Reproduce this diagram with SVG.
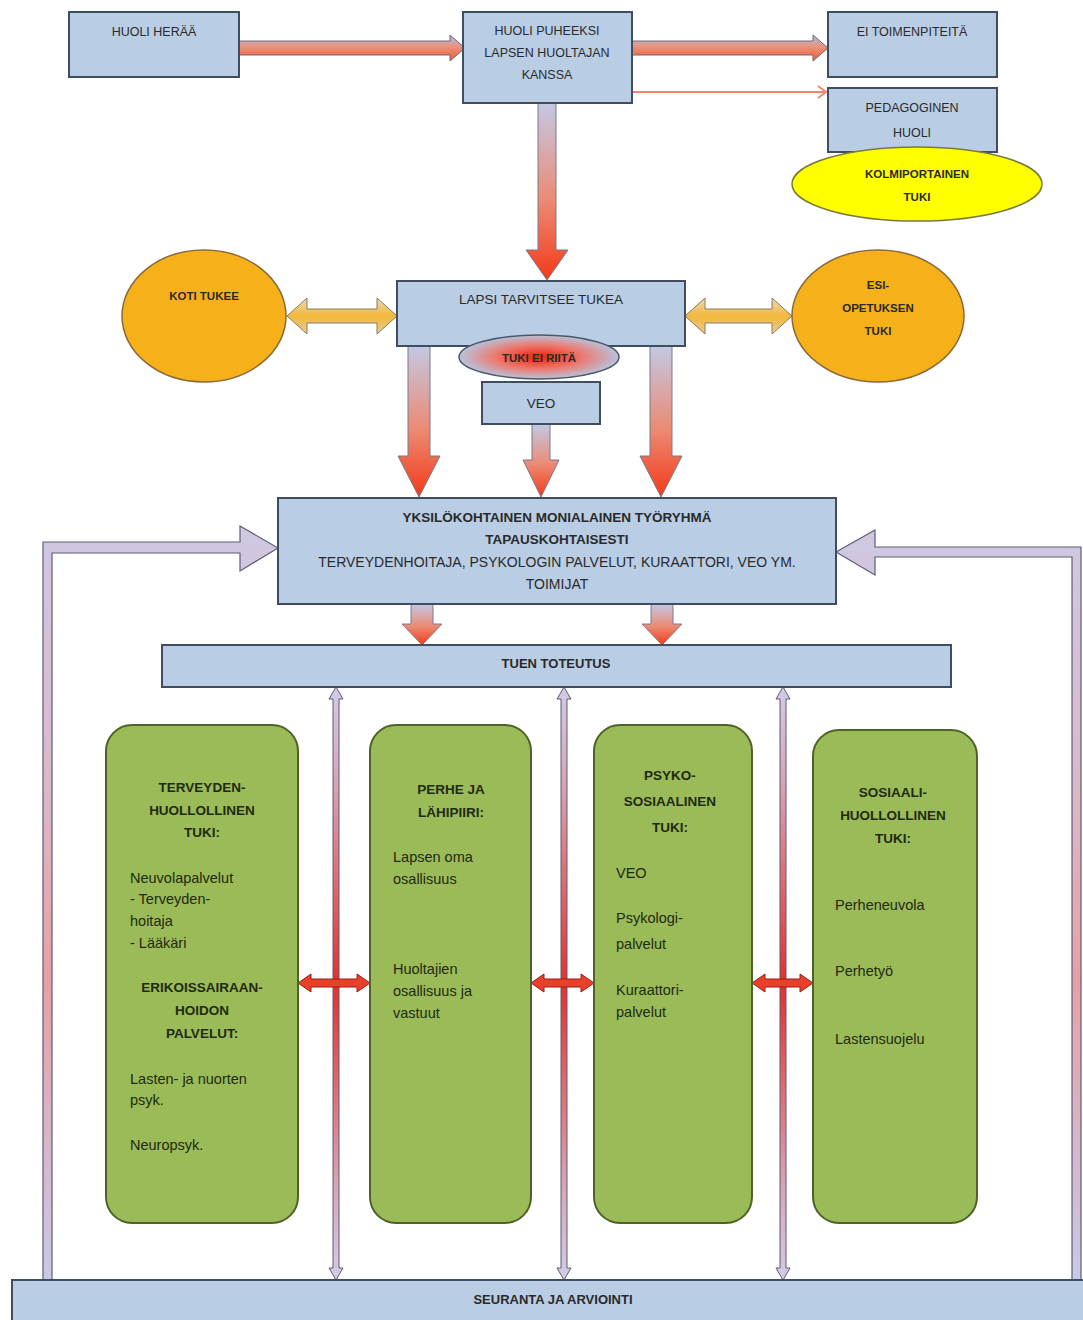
<svg xmlns="http://www.w3.org/2000/svg" width="1083" height="1320" viewBox="0 0 1083 1320">
<defs>
<linearGradient id="gH" x1="0" y1="0" x2="0" y2="1">
<stop offset="0" stop-color="#aebcdc"/><stop offset="0.45" stop-color="#e9937c"/><stop offset="1" stop-color="#ef5a36"/>
</linearGradient>
<linearGradient id="gV" x1="0" y1="0" x2="0" y2="1">
<stop offset="0" stop-color="#c3c9e4"/><stop offset="0.55" stop-color="#ec8a74"/><stop offset="1" stop-color="#f23a18"/>
</linearGradient>
<linearGradient id="gGold" x1="0" y1="0" x2="0" y2="1">
<stop offset="0" stop-color="#eadbb8"/><stop offset="0.5" stop-color="#f2b83a"/><stop offset="1" stop-color="#e4cc98"/>
</linearGradient>
<linearGradient id="gFb" x1="0" y1="0" x2="0" y2="1">
<stop offset="0" stop-color="#cfc9e2"/><stop offset="0.35" stop-color="#dcb8c8"/><stop offset="0.6" stop-color="#e8a0a4"/><stop offset="1" stop-color="#c9c9e6"/>
</linearGradient>
<linearGradient id="gThin" x1="0" y1="0" x2="0" y2="1">
<stop offset="0" stop-color="#d2cce6"/><stop offset="0.15" stop-color="#d8a8b8"/><stop offset="0.5" stop-color="#e4302a"/><stop offset="0.85" stop-color="#d8a8b8"/><stop offset="1" stop-color="#d2cce6"/>
</linearGradient>
<radialGradient id="gTuki" cx="0.5" cy="0.5" r="0.5">
<stop offset="0" stop-color="#f2200a"/><stop offset="0.55" stop-color="#ec7a70"/><stop offset="1" stop-color="#b9c2dc"/>
</radialGradient>
</defs>
<style>
.box{fill:#b9cde5;stroke:#3e4e60;stroke-width:2}
.green{fill:#9bbb59;stroke:#4f6228;stroke-width:2}
.t{font-family:"Liberation Sans",Arial,sans-serif;fill:#2a2a2a;font-size:12.5px}
.c{text-anchor:middle}
.b{font-weight:bold}
.g{font-family:"Liberation Sans",Arial,sans-serif;fill:#1e2a10;font-size:14.5px}
.gb{font-family:"Liberation Sans",Arial,sans-serif;fill:#1e2a10;font-size:13.5px;font-weight:bold;text-anchor:middle}
.arr{fill:url(#gH);stroke:#6a6a7a;stroke-width:1}
.arrv{fill:url(#gV);stroke:#7a7a8a;stroke-width:1}
.gold{fill:url(#gGold);stroke:#8a7a5a;stroke-width:1}
.fb{fill:url(#gFb);stroke:#5c5c7c;stroke-width:1.2}
.thin{fill:url(#gThin);stroke:#5a5a78;stroke-width:1}
.red{fill:#e8402a;stroke:#9a1e10;stroke-width:1}
</style>
<rect width="1083" height="1320" fill="#ffffff"/>

<g id="connectors">
<polygon class="arr" points="239,41 450,41 450,35 465,48 450,61 450,55 239,55"/>
<polygon class="arr" points="632,41 813,41 813,35 828,48 813,61 813,55 632,55"/>
<line x1="632" y1="92" x2="826" y2="92" stroke="#f0866a" stroke-width="2"/>
<polyline points="818,86 826,92 818,98" fill="none" stroke="#f0866a" stroke-width="2"/>
<polygon class="arrv" points="538,103 556,103 556,250 568,250 547,280 526,250 538,250"/>
<polygon class="gold" points="287,316 307,298 307,309 377,309 377,298 397,316 377,334 377,323 307,323 307,334"/>
<polygon class="gold" points="685,316 705,298 705,309 772,309 772,298 792,316 772,334 772,323 705,323 705,334"/>
<polygon class="arrv" points="408,346 430,346 430,456 440,456 419,497 398,456 408,456"/>
<polygon class="arrv" points="532,424 550,424 550,460 559,460 541,497 523,460 532,460"/>
<polygon class="arrv" points="650,346 672,346 672,456 682,456 661,497 640,456 650,456"/>
<polygon class="arrv" points="411,604 433,604 433,624 442,624 422,645 402,624 411,624"/>
<polygon class="arrv" points="651,604 673,604 673,624 682,624 662,645 642,624 651,624"/>
<polygon class="fb" points="43,1280 43,542 240,542 240,526 278,548 240,571 240,553 52,553 52,1280"/>
<polygon class="fb" points="1081,1280 1081,547 875,547 875,530 836,552 875,575 875,557 1072,557 1072,1280"/>
<polygon class="thin" points="336,687 343,699 339,699 339,1268 343,1268 336,1280 329,1268 333,1268 333,699 329,699"/>
<polygon class="thin" points="564,687 571,699 567,699 567,1268 571,1268 564,1280 557,1268 561,1268 561,699 557,699"/>
<polygon class="thin" points="783,687 790,699 786,699 786,1268 790,1268 783,1280 776,1268 780,1268 780,699 776,699"/>
<polygon class="red" points="298,983 311,974 311,979 357,979 357,974 370,983 357,992 357,987 311,987 311,992"/>
<polygon class="red" points="531,983 544,974 544,979 581,979 581,974 594,983 581,992 581,987 544,987 544,992"/>
<polygon class="red" points="752,983 765,974 765,979 800,979 800,974 813,983 800,992 800,987 765,987 765,992"/>
</g>

<g id="huoli-heraa">
<rect class="box" x="69" y="12" width="170" height="65"/>
<text class="t c" x="154" y="36">HUOLI HERÄÄ</text>
</g>
<g id="huoli-puheeksi">
<rect class="box" x="463" y="12" width="169" height="91"/>
<text class="t c" x="547" y="35">HUOLI PUHEEKSI</text>
<text class="t c" x="547" y="57">LAPSEN HUOLTAJAN</text>
<text class="t c" x="547" y="79">KANSSA</text>
</g>
<g id="ei-toimenpiteita">
<rect class="box" x="828" y="12" width="169" height="65"/>
<text class="t c" x="912" y="36">EI TOIMENPITEITÄ</text>
</g>
<g id="pedagoginen-huoli">
<rect class="box" x="828" y="88" width="169" height="64"/>
<text class="t c" x="912" y="112">PEDAGOGINEN</text>
<text class="t c" x="912" y="137">HUOLI</text>
</g>
<g id="kolmiportainen">
<ellipse cx="917" cy="184" rx="125" ry="37" fill="#ffff00" stroke="#7a7a3a" stroke-width="1.5"/>
<text class="t c b" x="917" y="178" style="font-size:11.5px">KOLMIPORTAINEN</text>
<text class="t c b" x="917" y="201" style="font-size:11.5px">TUKI</text>
</g>
<g id="koti-tukee">
<ellipse cx="204" cy="316" rx="82" ry="66" fill="#f5b01a" stroke="#8a6a3a" stroke-width="1.5"/>
<text class="t c b" x="204" y="300" style="font-size:11.5px">KOTI TUKEE</text>
</g>
<g id="esiopetuksen-tuki">
<ellipse cx="878" cy="316" rx="86" ry="66" fill="#f5b01a" stroke="#8a6a3a" stroke-width="1.5"/>
<text class="t c b" x="878" y="289" style="font-size:11.5px">ESI-</text>
<text class="t c b" x="878" y="312" style="font-size:11.5px">OPETUKSEN</text>
<text class="t c b" x="878" y="335" style="font-size:11.5px">TUKI</text>
</g>
<g id="lapsi-tarvitsee-tukea">
<rect class="box" x="397" y="281" width="288" height="65"/>
<text class="t c" x="541" y="304" style="font-size:13.5px">LAPSI TARVITSEE TUKEA</text>
</g>
<g id="tuki-ei-riita">
<ellipse cx="539" cy="357" rx="80" ry="22" fill="url(#gTuki)" stroke="#4a5a6a" stroke-width="1.5"/>
<text class="t c b" x="539" y="362" style="font-size:11.5px">TUKI EI RIITÄ</text>
</g>
<g id="veo">
<rect class="box" x="482" y="382" width="118" height="42"/>
<text class="t c" x="541" y="408" style="font-size:13.5px">VEO</text>
</g>
<g id="tyoryhma">
<rect class="box" x="278" y="498" width="558" height="106"/>
<text class="t c b" x="557" y="522" style="font-size:13.5px">YKSILÖKOHTAINEN MONIALAINEN TYÖRYHMÄ</text>
<text class="t c b" x="557" y="544" style="font-size:13.5px">TAPAUSKOHTAISESTI</text>
<text class="t c" x="557" y="567" style="font-size:14px">TERVEYDENHOITAJA, PSYKOLOGIN PALVELUT, KURAATTORI, VEO YM.</text>
<text class="t c" x="557" y="589" style="font-size:14px">TOIMIJAT</text>
</g>
<g id="tuen-toteutus">
<rect class="box" x="162" y="645" width="789" height="42"/>
<text class="t c b" x="556" y="668" style="font-size:13px">TUEN TOTEUTUS</text>
</g>
<g id="terveydenhuollollinen">
<rect class="green" x="106" y="725" width="192" height="498" rx="26"/>
<text class="gb" x="202" y="792">TERVEYDEN-</text>
<text class="gb" x="202" y="815">HUOLLOLLINEN</text>
<text class="gb" x="202" y="837">TUKI:</text>
<text class="g" x="130" y="883">Neuvolapalvelut</text>
<text class="g" x="130" y="904">- Terveyden-</text>
<text class="g" x="130" y="926">hoitaja</text>
<text class="g" x="130" y="948">- Lääkäri</text>
<text class="gb" x="202" y="992">ERIKOISSAIRAAN-</text>
<text class="gb" x="202" y="1015">HOIDON</text>
<text class="gb" x="202" y="1038">PALVELUT:</text>
<text class="g" x="130" y="1084">Lasten- ja nuorten</text>
<text class="g" x="130" y="1105">psyk.</text>
<text class="g" x="130" y="1150">Neuropsyk.</text>
</g>
<g id="perhe-ja-lahipiiri">
<rect class="green" x="370" y="725" width="161" height="498" rx="26"/>
<text class="gb" x="451" y="794">PERHE JA</text>
<text class="gb" x="451" y="817">LÄHIPIIRI:</text>
<text class="g" x="393" y="862">Lapsen oma</text>
<text class="g" x="393" y="884">osallisuus</text>
<text class="g" x="393" y="974">Huoltajien</text>
<text class="g" x="393" y="996">osallisuus ja</text>
<text class="g" x="393" y="1018">vastuut</text>
</g>
<g id="psykososiaalinen">
<rect class="green" x="594" y="725" width="158" height="498" rx="26"/>
<text class="gb" x="670" y="780">PSYKO-</text>
<text class="gb" x="670" y="806">SOSIAALINEN</text>
<text class="gb" x="670" y="832">TUKI:</text>
<text class="g" x="616" y="878">VEO</text>
<text class="g" x="616" y="923">Psykologi-</text>
<text class="g" x="616" y="949">palvelut</text>
<text class="g" x="616" y="995">Kuraattori-</text>
<text class="g" x="616" y="1017">palvelut</text>
</g>
<g id="sosiaalihuollollinen">
<rect class="green" x="813" y="730" width="164" height="493" rx="26"/>
<text class="gb" x="893" y="797">SOSIAALI-</text>
<text class="gb" x="893" y="820">HUOLLOLLINEN</text>
<text class="gb" x="893" y="843">TUKI:</text>
<text class="g" x="835" y="910">Perheneuvola</text>
<text class="g" x="835" y="976">Perhetyö</text>
<text class="g" x="835" y="1044">Lastensuojelu</text>
</g>
<g id="seuranta-ja-arviointi">
<rect class="box" x="12" y="1280" width="1080" height="50"/>
<text class="t c b" x="553" y="1304" style="font-size:13px">SEURANTA JA ARVIOINTI</text>
</g>
</svg>
